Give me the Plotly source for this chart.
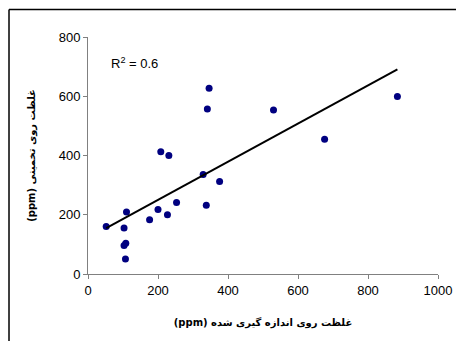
import numpy as np
import plotly.graph_objects as go

measured = [52, 103, 110, 103, 108, 107, 176, 200, 227, 253, 338, 376, 329, 208, 231, 346, 341, 530, 676, 884]
estimated = [160, 155, 209, 96, 104, 51, 183, 218, 200, 241, 232, 312, 336, 413, 400, 627, 557, 554, 455, 599]
x_ticks = [0, 200, 400, 600, 800, 1000]
y_ticks = [0, 200, 400, 600, 800]
x_title = "غلظت روی اندازه گیری شده (ppm)"
y_title = "غلظت روی تخمینی (ppm)"
r2_text = "R<sup>2</sup> = 0.6"

xa = np.array(measured, dtype=float)
ya = np.array(estimated, dtype=float)
slope, intercept = np.polyfit(xa, ya, 1)
x_line = np.array([xa.min(), xa.max()])
y_line = slope * x_line + intercept

RLE, PDF = "\u202b", "\u202c"
title_font = dict(family="DejaVu Sans, Arial", size=10, color="black")

fig = go.Figure()
fig.add_trace(go.Scatter(x=measured, y=estimated, mode="markers",
                         marker=dict(color="#000080", size=7), showlegend=False))
fig.add_trace(go.Scatter(x=x_line, y=y_line, mode="lines",
                         line=dict(color="black", width=2), showlegend=False))

axis_common = dict(showline=True, linecolor="#808080", linewidth=1, ticks="outside",
                   ticklen=4, tickcolor="#808080", showgrid=False, zeroline=False,
                   automargin=False,
                   tickfont=dict(family="Arial, Liberation Sans", size=13, color="black"))
fig.update_xaxes(range=[0, 1000], tickvals=x_ticks, **axis_common,
                 title=dict(text="<b>" + RLE + x_title + PDF + "</b>", font=title_font, standoff=22))
fig.update_yaxes(range=[0, 800], tickvals=y_ticks, **axis_common,
                 title=dict(text="<b>" + RLE + y_title + PDF + "</b>", font=title_font, standoff=21))

fig.add_annotation(x=59, y=712, xref="x", yref="y", text=r2_text, showarrow=False,
                   xanchor="left", yanchor="middle",
                   font=dict(family="Arial, Liberation Sans", size=13, color="black"))

frame = dict(color="black", width=1.5)
fig.add_shape(type="line", xref="paper", yref="paper", x0=-0.2257, x1=-0.2257, y0=-1.0, y1=1.116, line=frame)
fig.add_shape(type="line", xref="paper", yref="paper", x0=-0.2257, x1=1.6, y0=1.116, y1=1.116, line=frame)

fig.update_layout(width=448, height=333, margin=dict(l=80, r=18, t=29, b=67),
                  plot_bgcolor="white", paper_bgcolor="white")
fig.write_html("out.html")
